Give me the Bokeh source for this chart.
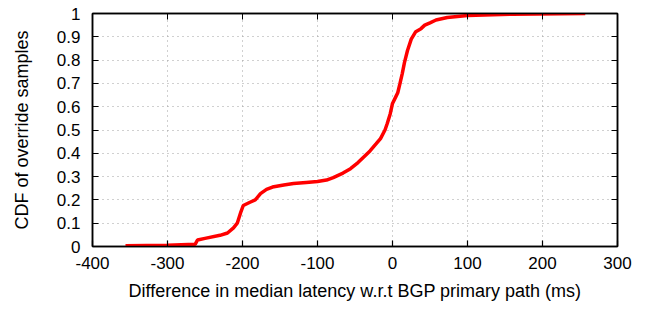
from bokeh.plotting import figure
from bokeh.models import FixedTicker, LinearAxis, Range1d
from bokeh.embed import file_html
from bokeh.resources import INLINE

# Data
latency_diff = [-356, -300, -263, -260, -250, -230, -220, -212, -207, -202, -199, -190, -183,
                -176, -168, -160, -145, -132, -115, -100, -88, -79, -66, -56, -46, -39, -30,
                -22, -16, -10, -7, -3, 0, 4, 7, 10, 13, 16, 20, 25, 31, 38, 43, 50, 58, 73,
                100, 160, 257]
cdf = [0.003, 0.005, 0.01, 0.028, 0.035, 0.048, 0.058, 0.08, 0.1, 0.15, 0.176, 0.19, 0.2,
       0.227, 0.245, 0.255, 0.264, 0.27, 0.275, 0.279, 0.285, 0.296, 0.315, 0.334, 0.36, 0.382,
       0.41, 0.44, 0.463, 0.5, 0.528, 0.57, 0.614, 0.64, 0.66, 0.7, 0.742, 0.79, 0.841, 0.89,
       0.922, 0.935, 0.95, 0.96, 0.972, 0.983, 0.991, 0.997, 1.0]

x_ticks = [-400, -300, -200, -100, 0, 100, 200, 300]
y_ticks = [0, 0.1, 0.2, 0.3, 0.4, 0.5, 0.6, 0.7, 0.8, 0.9, 1]
y_labels = {0: "0", 0.1: "0.1", 0.2: "0.2", 0.3: "0.3", 0.4: "0.4", 0.5: "0.5",
            0.6: "0.6", 0.7: "0.7", 0.8: "0.8", 0.9: "0.9", 1: "1"}
x_labels = {v: str(v) for v in x_ticks}

FONT = "Liberation Sans"

p = figure(width=638, height=305, output_backend="svg", toolbar_location=None,
           x_range=Range1d(-400, 300), y_range=Range1d(0, 1),
           min_border_left=92, min_border_right=21, min_border_top=13, min_border_bottom=59)
p.outline_line_color = "black"
p.outline_line_width = 1.5

p.line(latency_diff, cdf, line_color="#ff0000", line_width=3.5)

for ax in (p.xaxis[0], p.yaxis[0]):
    ax.axis_line_color = "black"
    ax.axis_line_width = 1.5
    ax.major_tick_in = 6
    ax.major_tick_out = 0
    ax.minor_tick_line_color = None
    ax.major_tick_line_width = 1.2
    ax.major_label_text_font = FONT
    ax.major_label_text_font_size = "17px"
    ax.major_label_text_color = "black"
    ax.axis_label_text_font = FONT
    ax.axis_label_text_font_size = "18px"
    ax.axis_label_text_font_style = "normal"
    ax.axis_label_text_color = "black"

p.xaxis[0].ticker = FixedTicker(ticks=x_ticks)
p.yaxis[0].ticker = FixedTicker(ticks=y_ticks)
p.yaxis[0].major_label_overrides = y_labels
p.xaxis[0].major_label_overrides = x_labels
p.xaxis[0].axis_label = "Difference in median latency w.r.t BGP primary path (ms)"
p.yaxis[0].axis_label = "CDF of override samples"
p.xaxis[0].major_label_standoff = 10
p.yaxis[0].major_label_standoff = 12
p.xaxis[0].axis_label_standoff = 9
p.yaxis[0].axis_label_standoff = 22

# mirrored ticks on top and right
top = LinearAxis(ticker=FixedTicker(ticks=x_ticks), major_tick_in=6, major_tick_out=0,
                 minor_tick_line_color=None, major_label_text_color=None,
                 major_label_text_font_size="1px", major_label_standoff=0,
                 axis_line_color="black", axis_line_width=1.5)
right = LinearAxis(ticker=FixedTicker(ticks=y_ticks), major_tick_in=6, major_tick_out=0,
                   minor_tick_line_color=None, major_label_text_color=None,
                   major_label_text_font_size="1px", major_label_standoff=0,
                   axis_line_color="black", axis_line_width=1.5)
p.add_layout(top, "above")
p.add_layout(right, "right")

p.xgrid.ticker = FixedTicker(ticks=x_ticks[1:-1])
p.ygrid.ticker = FixedTicker(ticks=y_ticks[1:-1])
for g in (p.xgrid[0], p.ygrid[0]):
    g.grid_line_color = "#a0a0a0"
    g.grid_line_dash = "1 4"
    g.grid_line_width = 1

open("out.html", "w").write(file_html(p, INLINE))
